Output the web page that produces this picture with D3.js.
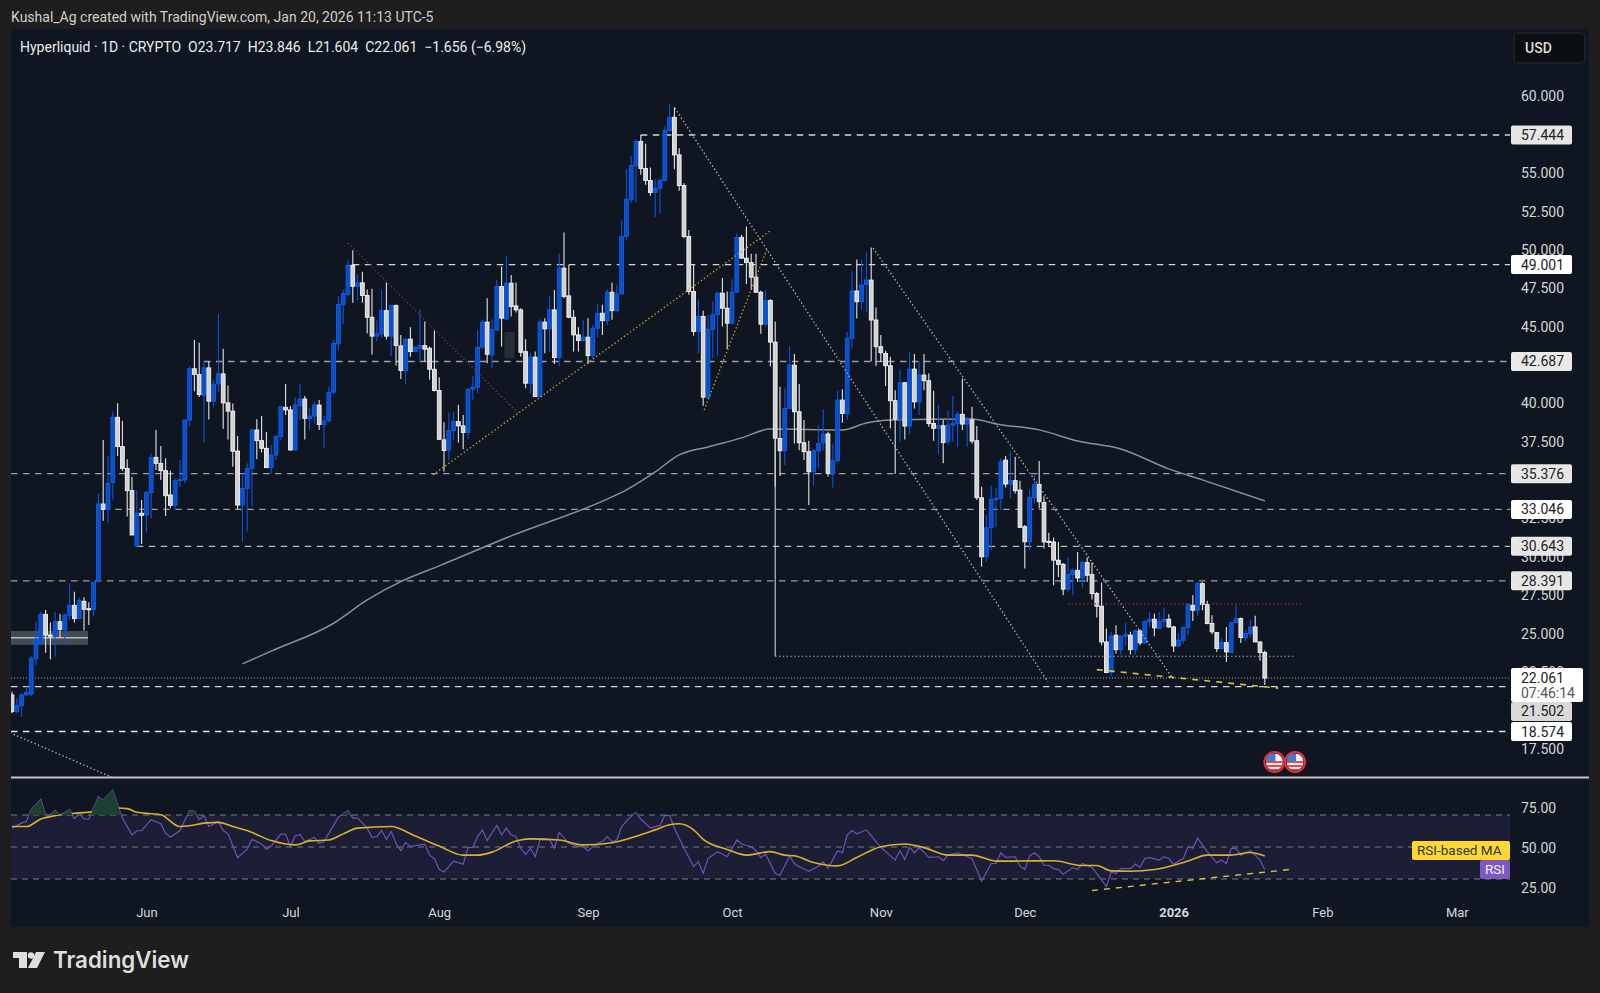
<!DOCTYPE html>
<html><head><meta charset="utf-8">
<script src="https://cdn.jsdelivr.net/npm/d3@7/dist/d3.min.js"></script>
<style>html,body{margin:0;padding:0;background:#1e1e1e}svg{display:block}text{font-family:Roboto,"Liberation Sans",sans-serif}</style>
</head><body><svg id="c" width="1600" height="993"></svg>
<script>
const openPrice=[20.96,19.87,20.26,20.96,21.02,23.32,24.32,26.21,24.86,24.8,
25.73,25.19,26.15,26.8,25.93,27.06,26.58,26.54,28.34,33.4,
33.05,34.79,39.05,37.14,35.72,34.27,30.66,32.8,32.68,34.14,
36.44,36.05,35.57,33.99,33.31,34.92,34.96,38.86,42.21,41.84,
40.49,42.27,40.1,41.23,41.88,39.99,39.45,36.85,33.33,34.42,
35.72,38.22,37.53,37.03,35.77,36.59,37.79,39.7,39.53,36.92,
39.81,40.24,38.96,39.13,39.85,38.59,38.81,40.69,43.84,46.38,
47.07,48.96,47.59,47.81,46.99,45.57,44.34,44.49,46.0,44.34,
46.33,43.7,42.08,44.14,43.33,43.55,43.72,43.55,42.18,40.8,
37.58,36.93,38.19,38.77,38.49,38.06,40.88,41.01,43.62,45.25,
43.12,44.75,47.57,45.46,47.79,46.31,46.05,43.33,41.27,42.97,
40.4,45.25,44.81,46.05,42.94,48.77,46.96,45.57,44.42,44.05,
44.27,43.07,44.85,45.83,45.35,47.2,46.0,47.09,50.83,53.26,
55.46,57.02,55.26,54.48,53.7,53.98,54.48,57.73,58.6,56.15,
54.15,50.83,47.25,44.64,45.62,40.36,44.79,45.73,47.14,46.16,
45.18,47.2,50.78,49.42,49.13,48.18,47.2,45.12,46.66,43.95,
37.67,36.87,39.63,42.45,39.41,37.39,36.81,35.5,36.87,37.39,
37.96,35.35,36.22,40.17,39.3,44.19,47.28,46.58,47.71,47.99,
45.39,43.65,43.21,42.41,40.13,38.93,41.3,38.48,42.19,40.06,
41.8,41.43,38.65,38.33,38.5,37.46,38.54,38.65,39.24,38.61,
38.87,37.52,33.81,29.96,31.85,33.7,33.77,36.26,34.7,34.92,
34.31,31.92,30.94,33.81,34.68,33.5,30.97,30.93,29.74,29.47,
27.85,28.8,29.08,28.58,29.58,28.8,27.56,26.74,24.41,22.42,
24.85,23.91,24.78,24.85,23.91,25.13,24.35,25.74,25.89,25.28,
25.76,25.89,25.39,24.15,24.52,25.35,26.8,26.48,28.21,26.85,
25.61,25.02,23.98,24.37,23.72,25.67,25.93,24.7,24.96,25.39,
24.41,23.717];
const highPrice=[21.17,20.74,21.06,21.5,23.5,25.73,26.38,26.5,25.67,26.38,
26.23,26.28,28.23,27.69,27.32,27.32,26.99,28.34,34.1,37.57,
36.53,39.42,39.96,38.83,36.31,35.18,34.27,33.66,34.27,36.66,
38.22,37.18,36.38,35.57,35.07,36.27,38.92,42.38,44.08,43.9,
42.71,42.71,41.51,45.81,43.51,41.12,39.95,37.83,35.4,36.05,
38.27,38.92,39.13,38.09,37.26,37.9,39.79,41.22,39.79,40.35,
41.2,40.44,39.63,40.07,40.18,39.13,41.05,44.08,46.94,47.38,
49.33,49.94,48.35,48.53,47.38,47.42,45.36,47.38,47.81,46.36,
46.4,44.42,44.2,44.92,43.66,46.09,45.29,43.66,44.7,41.66,
38.73,39.36,39.43,39.86,39.2,40.94,41.75,44.7,45.44,46.81,
45.44,48.0,48.87,49.57,48.33,47.83,46.16,44.14,43.27,43.33,
45.44,45.51,46.92,47.35,49.7,51.09,48.98,46.05,44.92,45.4,
45.51,45.07,46.44,46.38,47.4,47.83,47.68,51.87,55.22,56.09,
57.17,57.44,56.87,55.33,54.57,54.63,58.04,59.47,59.25,56.58,
54.3,51.26,48.98,46.75,46.0,45.73,46.6,47.25,48.12,47.25,
48.05,51.05,50.94,51.48,49.7,49.7,47.31,47.35,46.75,45.29,
41.04,40.93,43.65,43.17,41.22,38.87,37.52,36.96,38.54,39.56,
38.11,37.35,40.76,40.87,44.63,48.6,49.34,49.34,49.77,50.12,
46.21,44.41,43.39,43.0,40.82,42.17,41.35,43.3,43.17,42.71,
43.17,41.91,40.78,39.85,38.87,39.48,40.46,39.41,41.58,39.09,
39.74,38.48,34.53,32.68,34.59,34.48,36.37,36.52,36.81,36.48,
34.92,32.03,34.35,35.39,36.2,33.9,31.52,31.21,30.93,29.56,
29.95,29.19,30.28,29.69,29.91,29.58,27.67,28.28,25.28,25.07,
25.5,24.85,25.65,25.07,25.22,25.22,25.83,26.37,26.26,26.37,
26.65,26.22,25.45,24.96,25.39,26.9,27.45,28.32,28.32,27.09,
26.15,25.05,24.63,25.39,25.72,26.87,26.0,25.17,25.83,26.11,
24.45,23.846];
const lowPrice=[19.76,19.76,19.54,20.89,20.89,22.91,24.32,23.71,23.28,23.45,
24.71,24.32,25.84,25.67,25.89,25.15,25.52,26.06,28.28,32.31,
32.14,33.7,36.53,35.57,32.58,31.38,30.64,30.79,31.53,32.47,
35.62,34.96,32.62,33.12,33.01,34.53,34.75,38.47,40.75,40.38,
37.39,38.91,39.71,40.69,38.3,37.6,35.82,33.05,30.95,31.6,
33.27,36.31,36.75,35.77,35.35,36.27,37.53,39.2,36.88,36.88,
38.87,37.61,38.27,38.66,38.22,37.03,38.77,40.53,43.42,45.12,
46.94,46.51,46.68,46.51,44.51,43.14,44.01,44.23,44.12,43.03,
42.42,41.55,41.2,43.0,43.3,42.68,42.68,41.49,40.73,37.58,
35.51,36.23,37.58,37.41,36.97,37.62,40.14,40.62,43.5,42.57,
42.25,44.7,43.66,45.4,45.62,45.88,43.0,40.94,40.62,40.4,
40.36,43.23,43.33,42.53,42.36,46.81,45.51,43.33,43.33,44.0,
42.53,42.9,44.27,44.42,45.07,45.4,45.95,47.03,50.57,53.04,
53.04,54.85,54.2,53.48,52.09,52.31,54.41,57.67,55.22,53.82,
50.72,47.03,44.36,43.23,39.8,40.3,42.9,43.05,44.97,43.49,
45.1,47.18,49.4,47.74,47.35,47.15,44.49,44.97,42.36,34.54,
35.22,35.94,39.6,37.35,36.91,36.26,33.33,34.63,35.72,36.91,
35.18,34.48,36.15,38.7,38.91,43.54,45.49,46.08,45.93,42.71,
42.39,42.67,41.09,38.33,35.37,37.46,37.61,37.96,39.63,39.2,
40.82,38.44,37.52,36.65,36.05,37.24,37.46,37.13,38.22,37.13,
37.35,33.66,29.31,29.64,30.4,31.92,33.01,34.48,33.77,34.09,
31.85,29.2,30.4,33.4,33.11,30.5,30.6,28.11,28.65,27.45,
27.63,27.45,28.32,27.89,28.32,27.17,26.0,24.2,22.39,22.18,
23.65,23.6,24.2,23.6,23.6,24.2,24.3,25.39,24.78,25.25,
25.39,25.33,23.76,24.09,24.3,24.85,25.78,26.11,26.48,25.56,
24.91,23.76,23.95,23.11,23.7,25.6,24.35,24.48,24.7,24.4,
23.18,21.604];
const closePrice=[19.87,20.26,20.96,21.11,23.32,24.6,26.21,24.86,24.8,25.73,
25.23,26.15,26.8,25.93,27.1,26.54,26.54,28.3,33.4,33.05,
34.75,39.05,37.14,35.72,34.27,31.38,32.8,32.66,34.14,36.44,
36.05,35.57,33.94,33.31,34.92,35.01,38.87,42.21,41.84,40.53,
42.27,40.1,41.19,41.88,39.99,39.45,36.84,33.33,34.42,35.72,
38.22,37.53,37.03,35.77,36.59,37.79,39.74,39.53,36.92,39.85,
40.24,38.98,39.13,39.85,38.59,38.81,40.68,43.86,46.4,47.12,
48.96,47.59,47.81,46.99,45.57,44.34,44.49,46.0,44.34,46.33,
43.73,42.1,44.14,43.33,43.62,43.72,43.49,42.18,40.8,37.62,
36.88,38.19,38.77,38.49,38.06,40.88,41.01,43.62,45.25,43.16,
44.75,47.57,45.51,47.79,46.27,46.05,43.29,41.27,42.97,40.4,
45.25,44.81,46.05,42.94,48.77,46.92,45.57,44.42,44.05,44.27,
43.07,44.85,45.83,45.35,47.2,46.0,47.09,50.83,53.26,55.46,
57.02,55.26,54.48,53.7,53.98,54.48,57.73,58.6,56.15,54.15,
50.83,47.25,44.64,45.62,40.36,44.79,45.73,47.14,46.16,45.18,
47.2,50.78,49.42,49.13,48.18,47.2,45.12,46.66,43.95,37.69,
36.87,39.63,42.45,39.41,37.39,36.81,35.5,36.87,37.35,37.96,
35.39,36.22,40.17,39.3,44.19,47.28,46.58,47.67,47.99,45.39,
43.65,43.26,42.41,40.13,38.93,41.3,38.48,42.19,40.06,41.8,
41.43,38.65,38.33,38.5,37.41,38.54,38.65,39.24,38.61,38.87,
37.5,33.81,29.96,31.85,33.7,33.77,36.15,34.7,34.92,34.27,
31.88,30.94,33.81,34.68,33.55,30.93,30.93,29.74,29.47,27.85,
28.8,29.08,28.58,29.58,28.76,27.56,26.74,24.41,22.42,24.8,
23.91,24.78,24.89,23.91,25.13,24.35,25.74,25.89,25.33,25.76,
25.89,25.39,24.15,24.52,25.35,26.87,26.48,28.21,26.85,25.61,
25.07,23.98,24.37,23.76,25.67,25.93,24.7,24.96,25.39,24.41,
23.72,22.061];

const smaDay=[48,54,67,74,81,89,104,125,128,134,139,145,152,158,173,178,183,200,205,214,222,231,241,248,261];
const smaPrice=[22.98,23.81,25.63,27.15,28.34,29.37,31.32,33.86,34.32,35.49,36.6,37.12,37.71,38.29,38.23,38.68,38.88,38.94,38.62,38.23,37.51,36.99,35.69,34.97,33.6];

const rsiDay=[0,2,3,4,6,7,8,9,10,12,13,14,15,16,18,19,21,22,23,25,26,27,29,31,32,33,35,37,38,39,40,41,43,44,45,47,49,50,52,53,54,56,57,58,59,60,61,63,64,65,68,70,71,72,74,75,76,77,78,79,80,81,82,83,86,87,88,89,90,92,94,95,96,97,98,99,101,102,103,104,105,106,107,108,109,110,112,113,114,116,118,119,120,122,123,124,125,126,127,129,130,131,133,135,136,137,138,140,142,143,144,145,147,149,151,152,154,155,156,157,159,160,162,163,164,166,168,169,170,172,173,174,175,176,178,180,181,184,185,186,187,188,189,191,193,194,195,197,200,202,204,205,206,207,209,210,211,212,213,214,215,216,217,218,219,221,222,223,225,226,228,229,230,231,233,234,235,236,237,239,240,241,242,244,245,246,247,249,251,252,253,254,255,256,258,260,261];
const rsiValue=[61.8,64.9,66,73.4,79.7,70.2,70.2,72.9,69.8,73.4,67.7,70.8,67.5,67.5,81.4,79.3,85.6,76.5,68.1,57.6,60.1,60.3,67.1,64.5,58.6,56.1,60.3,72.9,72.3,67.1,69.6,62.8,66,60.3,58.2,43.3,48.7,54.8,51.9,48.5,50.6,58,58,50.2,56.9,57.8,53.4,55.9,52.3,53.4,68.7,72.7,68.1,68.1,61.8,56.1,56.5,60.3,54.8,59.7,52.3,47.7,52.9,50.4,51.7,44.9,42.8,35.9,34.4,41.2,39.3,49.6,49.8,56.5,60.7,54,63.5,57.6,61.8,57.6,56.5,49.2,45.4,49.2,43.9,54.4,54.4,49.2,59.1,52.3,50.2,50.2,47.7,52.3,53.4,56.5,53.4,54.4,62.8,69.2,71.7,67.5,61.8,63.5,69.8,69.8,61.8,49.2,38,40.7,33.4,42.8,47.1,43.9,54.4,51.9,50.2,47.7,43.3,45.6,33.4,32.3,44.3,39.7,37.6,34.8,38,40.7,36.5,47.7,46.4,57.6,60.1,58.2,60.7,53.4,49.8,41.8,47.7,42.2,49.8,46.4,49.8,43.5,43.9,41.4,44.9,46.4,42.8,28.7,39.7,39.7,46.4,43.5,43.9,38,35.9,44.3,46.4,43.9,38.6,38.6,36.5,35.9,33,37,35.9,39.7,37.2,33.4,25.4,34.4,33.4,36.5,36.5,39.3,37.2,42.8,43.3,41.8,43.9,42.8,39.3,42.8,50.2,49.2,55.5,47.1,40.1,41.8,39.7,49.2,49.2,44.9,47.7,41.8,35.9];
const rsiMaDay=[0,3,6,9,14,20,22,24,26,29,31,35,37,40,43,46,49,54,59,62,66,69,72,79,84,89,94,97,100,105,108,114,119,125,131,134,137,139,142,144,149,153,158,161,163,167,172,176,181,186,190,195,200,205,209,217,223,226,229,233,238,245,249,254,258,261];
const rsiMaValue=[62.8,62.8,67.5,69.6,71.3,72.9,74.4,74,71.7,70.8,70.2,62.8,63.3,64.9,65.4,62.8,60.3,54,51.3,53.8,54.4,58.2,61.8,62.8,56.9,50.6,44.9,44.9,46.8,53.8,55.1,54.4,51.3,52.7,57.6,60.7,63.9,64.5,60.7,54.8,48.5,44.9,47.1,44.9,44.5,40.3,38.2,43.5,50.2,51.9,49.6,44.9,44.9,41.2,41.2,41.4,38.4,38.4,35.1,34.8,35.9,41.2,44.9,44.9,46.6,44.3];

const monthLabels=["Jun","Jul","Aug","Sep","Oct","Nov","Dec","2026","Feb","Mar"];
const monthDays=[28,58,89,120,150,181,211,242,273,301];
const priceTicks=[60,55,52.5,50,47.5,45,40,37.5,32.5,30,27.5,25,22.5,17.5];
const rsiTicks=[75,50,25];
const rsiLevels=[70,50,30];
const levelPrice=[57.444,49.001,42.687,35.376,33.046,30.643,28.391,21.502,18.574];
const levelStartDay=[131,71,40,-1,21.5,26,-1,-1,-1];
const levelFill=["#e6e6e6","#ffffff","#e9e9e9","#e6e6e6","#ffffff","#e6e6e6","#e6e6e6","#d9d9d9","#ffffff"];
const levelStroke=["#d4d6d9","#d4d6d9","#9b9ea3","#9b9ea3","#9b9ea3","#b8bbbf","#9b9ea3","#d4d6d9","#e2e3e5"];
const levelLabelShift=[0,0,0,0,0,0,0,24.8,0];
const lastClose=22.061;
const whiteDotted=[[138.1,59.2,215.8,21.81],[179.4,50.08,241.9,22.01],[-0.4,18.49,20.8,15.6]];
const yellowDotted=[[87.7,35.3,157.9,51.19],[144.2,39.53,157.3,50.02]];
const redDotted=[[70,50.41,105.4,39.33],[220,26.89,269,26.89]];
const yellowDashed=[[226,22.61,263.8,21.4]];
const rsiTrend=[[225,22.8,266,35.9]];
const greyBase=[[159,23.48,267,23.48]];

const W=1600,H=993,L=11,R=1510,PR=1589,TOP=29,SEP=777,BOT=927;
const svg=d3.select("#c");
const x=d3.scaleLinear().domain([0,261]).range([12,1264.8]);
const y=d3.scaleLinear().domain([17.5,60]).range([748,95.8]);
const ry=d3.scaleLinear().domain([25,75]).range([887,807]);
svg.append("rect").attr("width",W).attr("height",H).attr("fill","#1e1e1e");
svg.append("rect").attr("x",L).attr("y",TOP).attr("width",PR-L).attr("height",BOT-TOP).attr("fill","#0f1622");
const defs=svg.append("defs");
defs.append("clipPath").attr("id","pc").append("rect").attr("x",L).attr("y",TOP).attr("width",R-L).attr("height",SEP-TOP);
defs.append("clipPath").attr("id","rc").append("rect").attr("x",L).attr("y",SEP).attr("width",R-L).attr("height",BOT-SEP);
defs.append("clipPath").attr("id","ob").append("rect").attr("x",L).attr("y",SEP).attr("width",R-L).attr("height",ry(70)-SEP);

const main=svg.append("g").attr("clip-path","url(#pc)");
main.selectAll("line.lvl").data(levelPrice).join("line").attr("class","lvl")
 .attr("x1",(d,i)=>levelStartDay[i]<0?L:x(levelStartDay[i])).attr("x2",R).attr("y1",d=>y(d)).attr("y2",d=>y(d))
 .attr("stroke",(d,i)=>levelStroke[i]).attr("stroke-width",1.3).attr("stroke-dasharray","6.5 5.5");
main.append("line").attr("x1",L).attr("x2",R).attr("y1",y(lastClose)).attr("y2",y(lastClose)).attr("stroke","#a8a8a8").attr("stroke-width",1).attr("stroke-dasharray","1 2");
main.append("rect").attr("x",L).attr("width",77).attr("y",y(25.13)).attr("height",y(24.22)-y(25.13)).attr("fill","#444a54");
main.append("line").attr("x1",L).attr("x2",88).attr("y1",y(24.68)).attr("y2",y(24.68)).attr("stroke","#b8b8b8").attr("stroke-width",1.4);
main.append("rect").attr("x",x(102.6)).attr("width",10).attr("y",y(44.6)).attr("height",y(42.9)-y(44.6)).attr("fill","#272d35");
main.append("path").attr("d",d3.line().x(d=>x(d)).y((d,i)=>y(smaPrice[i])).curve(d3.curveMonotoneX)(smaDay)).attr("fill","none").attr("stroke","#8d8f94").attr("stroke-width",1.5);
const days=d3.range(openPrice.length);
const isUp=i=>closePrice[i]>=openPrice[i];
const cg=main.append("g");
cg.selectAll("line.w").data(days).join("line").attr("class","w")
 .attr("x1",d=>x(d)).attr("x2",d=>x(d)).attr("y1",d=>y(highPrice[d])).attr("y2",d=>y(lowPrice[d]))
 .attr("stroke",d=>isUp(d)?"#0a55dd":"#e4e4e4").attr("stroke-width",1.1);
cg.selectAll("rect.b").data(days).join("rect").attr("class","b")
 .attr("x",d=>x(d)-1.9).attr("width",3.8)
 .attr("y",d=>y(Math.max(openPrice[d],closePrice[d])))
 .attr("height",d=>Math.max(1.2,Math.abs(y(openPrice[d])-y(closePrice[d]))))
 .attr("fill",d=>isUp(d)?"#0a4fc9":"#d2d2d2").attr("stroke",d=>isUp(d)?"#0d5fe6":"#f3f3f3").attr("stroke-width",0.9);
function seg(g,data,col,dash,w){g.selectAll(null).data(data).join("line")
 .attr("x1",d=>x(d[0])).attr("y1",d=>y(d[1])).attr("x2",d=>x(d[2])).attr("y2",d=>y(d[3]))
 .attr("stroke",col).attr("stroke-width",w).attr("stroke-dasharray",dash);}
seg(main,whiteDotted,"#b4b6ba","1.4 2.4",1.3);
seg(main,yellowDotted,"#bfa72f","1.4 2.4",1.3);
seg(main,redDotted,"#8a2c42","1.4 2.4",1.3);
seg(main,yellowDashed,"#d6c43a","6 6",1.6);
seg(main,greyBase,"#b0b2b6","1.4 2.4",1.2);
main.append("line").attr("x1",x(159)).attr("x2",x(159)).attr("y1",y(37.69)).attr("y2",y(23.48)).attr("stroke","#d2d2d2").attr("stroke-width",1.1);

const flagDays=[263,267.3];
const fg=svg.append("g");
flagDays.forEach((d,k)=>{
 const cx=x(d),cy=762,r=8.5;
 const id="fl"+k;
 defs.append("clipPath").attr("id",id).append("circle").attr("cx",cx).attr("cy",cy).attr("r",r);
 fg.append("circle").attr("cx",cx).attr("cy",cy).attr("r",r+1.5).attr("fill","#0f1622").attr("stroke","#e5303a").attr("stroke-width",2);
 const g=fg.append("g").attr("clip-path",`url(#${id})`);
 g.append("rect").attr("x",cx-r).attr("y",cy-r).attr("width",2*r).attr("height",2*r).attr("fill","#f3f3f3");
 [0,1,2].forEach(s=>g.append("rect").attr("x",cx-r).attr("y",cy-1+s*4).attr("width",2*r).attr("height",2).attr("fill","#ea4a4f"));
 g.append("rect").attr("x",cx-r).attr("y",cy-r).attr("width",r+1).attr("height",r-1).attr("fill","#3b7bd9");
});

const rsiG=svg.append("g").attr("clip-path","url(#rc)");
rsiG.append("rect").attr("x",L).attr("width",R-L).attr("y",ry(70)).attr("height",ry(30)-ry(70)).attr("fill","#1c1e36");
rsiG.selectAll("line.rl").data(rsiLevels).join("line").attr("x1",L).attr("x2",R).attr("y1",d=>ry(d)).attr("y2",d=>ry(d)).attr("stroke","#787b86").attr("stroke-width",1).attr("stroke-dasharray","6 5");
svg.append("g").attr("clip-path","url(#ob)").append("path")
 .attr("d",d3.area().x(d=>x(d)).y0(ry(70)).y1((d,i)=>ry(rsiValue[i]))(rsiDay)).attr("fill","#1c4030");
rsiG.append("path").attr("d",d3.line().x(d=>x(d)).y((d,i)=>ry(rsiValue[i]))(rsiDay)).attr("fill","none").attr("stroke","#6f52b5").attr("stroke-width",1.2);
rsiG.append("path").attr("d",d3.line().x(d=>x(d)).y((d,i)=>ry(rsiMaValue[i])).curve(d3.curveMonotoneX)(rsiMaDay)).attr("fill","none").attr("stroke","#d8b32a").attr("stroke-width",1.6);
rsiG.selectAll(null).data(rsiTrend).join("line").attr("x1",d=>x(d[0])).attr("y1",d=>ry(d[1])).attr("x2",d=>x(d[2])).attr("y2",d=>ry(d[3])).attr("stroke","#d6c43a").attr("stroke-width",1.4).attr("stroke-dasharray","6 6");

svg.append("rect").attr("x",L).attr("y",SEP-0.5).attr("width",PR-L).attr("height",2).attr("fill","#c4c4c4");

const axY=svg.append("g").attr("transform",`translate(1521,0.7)`).call(d3.axisRight(y).tickValues(priceTicks).tickSize(0).tickPadding(0).tickFormat(d3.format(".3f")));
axY.select(".domain").remove();
axY.selectAll("text").attr("fill","#d6d6d6").style("font-size","14px").style("font-family","Roboto");
const axR=svg.append("g").attr("transform",`translate(1521,0.7)`).call(d3.axisRight(ry).tickValues(rsiTicks).tickSize(0).tickPadding(0).tickFormat(d3.format(".2f")));
axR.select(".domain").remove();
axR.selectAll("text").attr("fill","#d6d6d6").style("font-size","14px").style("font-family","Roboto");
const axX=svg.append("g").attr("transform",`translate(0,908)`).call(d3.axisBottom(x).tickValues(monthDays).tickSize(0).tickPadding(0).tickFormat((d,i)=>monthLabels[i]));
axX.select(".domain").remove();
axX.selectAll("text").attr("fill","#d6d6d6").style("font-size","13px").style("font-family","Roboto").style("font-weight",(d,i)=>monthLabels[i]==="2026"?700:400);

const lab=svg.append("g");
levelPrice.forEach((p,i)=>{
 const cy=y(p)+levelLabelShift[i];
 lab.append("rect").attr("x",1511).attr("y",cy-9.5).attr("width",61).attr("height",19).attr("rx",2).attr("fill",levelFill[i]);
 lab.append("text").attr("x",1521).attr("y",cy+5).attr("fill","#222").style("font-size","14px").text(d3.format(".3f")(p));
});
lab.append("rect").attr("x",1511).attr("y",668).attr("width",72).attr("height",34).attr("rx",2).attr("fill","#fff");
lab.append("text").attr("x",1521).attr("y",683).attr("fill","#222").style("font-size","14px").text(d3.format(".3f")(lastClose));
lab.append("text").attr("x",1521).attr("y",698).attr("fill","#555").style("font-size","14px").text("07:46:14");

lab.append("rect").attr("x",1412).attr("y",841).attr("width",98).attr("height",19).attr("rx",2).attr("fill","#fdd835");
lab.append("text").attr("x",1417).attr("y",855).attr("fill","#333").style("font-size","13.5px").text("RSI-based MA");
lab.append("rect").attr("x",1480).attr("y",860).attr("width",30).attr("height",19).attr("rx",2).attr("fill","#7e57c2");
lab.append("text").attr("x",1485).attr("y",874).attr("fill","#f3f3f3").style("font-size","13.5px").text("RSI");

lab.append("rect").attr("x",1514).attr("y",33).attr("width",71).attr("height",30).attr("rx",5).attr("fill","#0c0d10").attr("stroke","#2a2e39");
lab.append("text").attr("x",1525).attr("y",53).attr("fill","#dcdcdc").style("font-size","14px").style("font-weight",500).text("USD");

svg.append("text").attr("x",11).attr("y",22).attr("fill","#cfcfcf").style("font-size","14px").text("Kushal_Ag created with TradingView.com, Jan 20, 2026 11:13 UTC-5");
svg.append("text").attr("x",20).attr("y",52).attr("fill","#ececec").style("font-size","14px").style("white-space","pre").text("Hyperliquid · 1D · CRYPTO  O23.717  H23.846  L21.604  C22.061  −1.656 (−6.98%)");

const lg=svg.append("g").attr("fill","#dedede");
lg.append("path").attr("d","M13 952H27V968H19V958H13Z");
lg.append("circle").attr("cx",31).attr("cy",955.5).attr("r",3.2);
lg.append("path").attr("d","M36 952H45L37 968H28Z");
svg.append("text").attr("x",53).attr("y",968).attr("fill","#dedede").style("font-size","22.3px").style("font-weight",600).style("font-family","Inter").text("TradingView");
</script></body></html>
